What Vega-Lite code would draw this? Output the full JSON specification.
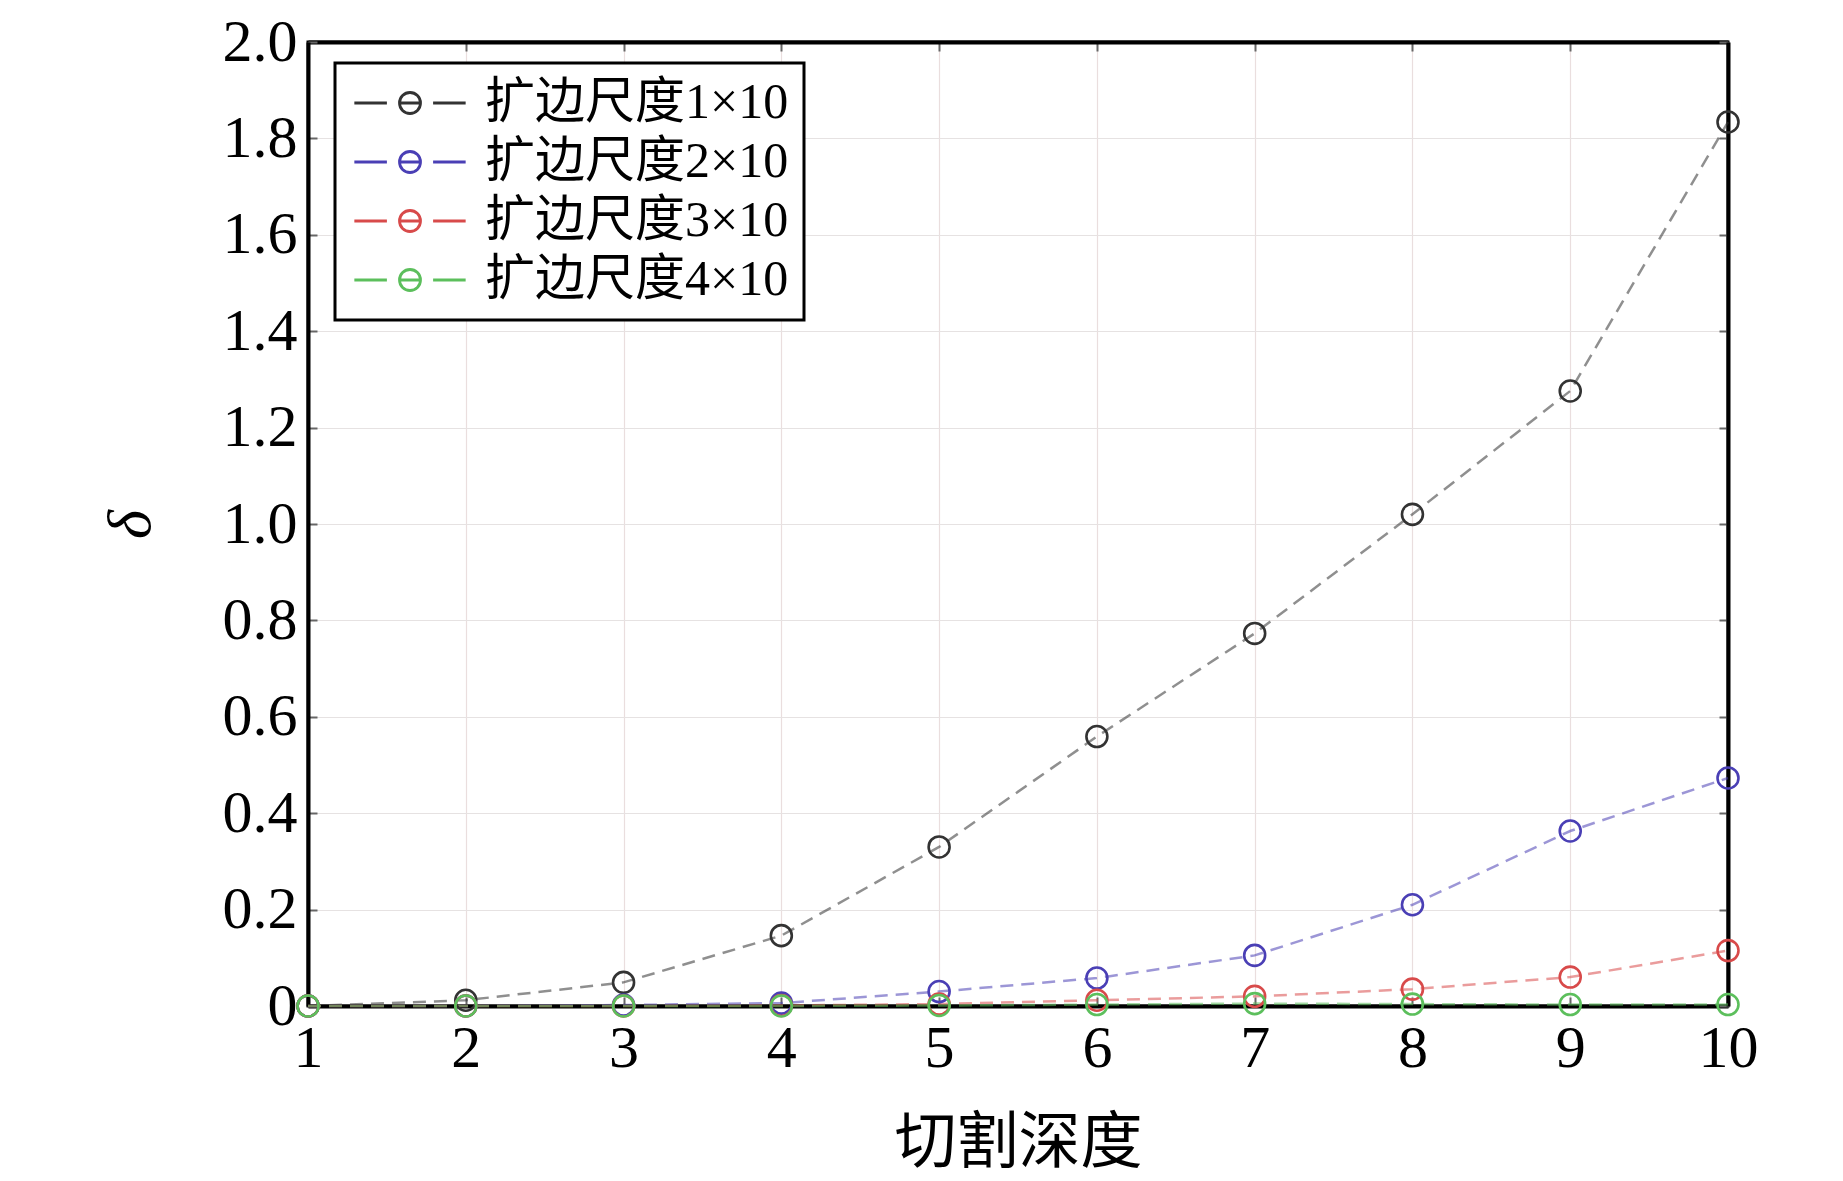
{
  "$schema": "https://vega.github.io/schema/vega-lite/v6.json",
  "autosize": "none",
  "width": 1420,
  "height": 964,
  "padding": {"left": 308, "top": 42, "right": 115, "bottom": 175},
  "background": "white",
  "config": {
    "view": {"stroke": "#000", "strokeWidth": 3},
    "font": "Liberation Serif, Noto Sans CJK SC"
  },
  "data": {
    "values": [
      {"x": 1, "y": 0.0, "s": "扩边尺度1×10"},
      {"x": 2, "y": 0.012, "s": "扩边尺度1×10"},
      {"x": 3, "y": 0.049, "s": "扩边尺度1×10"},
      {"x": 4, "y": 0.146, "s": "扩边尺度1×10"},
      {"x": 5, "y": 0.33, "s": "扩边尺度1×10"},
      {"x": 6, "y": 0.559, "s": "扩边尺度1×10"},
      {"x": 7, "y": 0.773, "s": "扩边尺度1×10"},
      {"x": 8, "y": 1.02, "s": "扩边尺度1×10"},
      {"x": 9, "y": 1.276, "s": "扩边尺度1×10"},
      {"x": 10, "y": 1.834, "s": "扩边尺度1×10"},
      {"x": 1, "y": 0.0, "s": "扩边尺度2×10"},
      {"x": 2, "y": 0.0, "s": "扩边尺度2×10"},
      {"x": 3, "y": 0.002, "s": "扩边尺度2×10"},
      {"x": 4, "y": 0.006, "s": "扩边尺度2×10"},
      {"x": 5, "y": 0.03, "s": "扩边尺度2×10"},
      {"x": 6, "y": 0.058, "s": "扩边尺度2×10"},
      {"x": 7, "y": 0.105, "s": "扩边尺度2×10"},
      {"x": 8, "y": 0.21, "s": "扩边尺度2×10"},
      {"x": 9, "y": 0.363, "s": "扩边尺度2×10"},
      {"x": 10, "y": 0.473, "s": "扩边尺度2×10"},
      {"x": 1, "y": 0.0, "s": "扩边尺度3×10"},
      {"x": 2, "y": 0.0, "s": "扩边尺度3×10"},
      {"x": 3, "y": 0.0, "s": "扩边尺度3×10"},
      {"x": 4, "y": 0.001, "s": "扩边尺度3×10"},
      {"x": 5, "y": 0.004, "s": "扩边尺度3×10"},
      {"x": 6, "y": 0.012, "s": "扩边尺度3×10"},
      {"x": 7, "y": 0.02, "s": "扩边尺度3×10"},
      {"x": 8, "y": 0.035, "s": "扩边尺度3×10"},
      {"x": 9, "y": 0.06, "s": "扩边尺度3×10"},
      {"x": 10, "y": 0.115, "s": "扩边尺度3×10"},
      {"x": 1, "y": 0.0, "s": "扩边尺度4×10"},
      {"x": 2, "y": 0.0, "s": "扩边尺度4×10"},
      {"x": 3, "y": 0.0, "s": "扩边尺度4×10"},
      {"x": 4, "y": 0.0, "s": "扩边尺度4×10"},
      {"x": 5, "y": 0.001, "s": "扩边尺度4×10"},
      {"x": 6, "y": 0.003, "s": "扩边尺度4×10"},
      {"x": 7, "y": 0.005, "s": "扩边尺度4×10"},
      {"x": 8, "y": 0.004, "s": "扩边尺度4×10"},
      {"x": 9, "y": 0.003, "s": "扩边尺度4×10"},
      {"x": 10, "y": 0.003, "s": "扩边尺度4×10"}
    ]
  },
  "layer": [
    {
      "mark": {"type": "line", "strokeDash": [13, 8], "strokeWidth": 2.5, "opacity": 0.55, "clip": false},
      "encoding": {
        "x": {
          "field": "x", "type": "quantitative",
          "scale": {"domain": [1, 10], "nice": false, "zero": false},
          "axis": {
            "title": "切割深度", "values": [1,2,3,4,5,6,7,8,9,10],
            "labelFontSize": 60, "labelColor": "#000", "labelFont": "Liberation Serif",
            "labelPadding": 22, "labelFlush": false, "labelOverlap": false,
            "titleFontSize": 62, "titleFontWeight": "normal", "titleColor": "#000",
            "titleFont": "Liberation Serif, Noto Sans CJK SC", "titlePadding": 35,
            "grid": true, "gridColor": "#eadede", "gridWidth": 1.2,
            "ticks": true, "tickSize": -9, "tickColor": "#666", "tickWidth": 2,
            "domain": true, "domainColor": "#000", "domainWidth": 4
          }
        },
        "y": {
          "field": "y", "type": "quantitative",
          "scale": {"domain": [0, 2], "nice": false},
          "axis": {
            "title": "δ", "values": [0,0.2,0.4,0.6,0.8,1.0,1.2,1.4,1.6,1.8,2.0],
            "labelExpr": "datum.value == 0 ? '0' : format(datum.value, '.1f')",
            "labelFontSize": 60, "labelColor": "#000", "labelFont": "Liberation Serif",
            "labelPadding": 20, "labelFlush": false, "labelOverlap": false,
            "titleFontSize": 62, "titleFontWeight": "normal", "titleFontStyle": "italic",
            "titleColor": "#000", "titleFont": "Liberation Serif", "titlePadding": 60,
            "grid": true, "gridColor": "#e6e2e2", "gridWidth": 1.2,
            "ticks": true, "tickSize": -9, "tickColor": "#666", "tickWidth": 2,
            "domain": true, "domainColor": "#000", "domainWidth": 4
          }
        },
        "color": {
          "field": "s", "type": "nominal",
          "scale": {"domain": ["扩边尺度1×10","扩边尺度2×10","扩边尺度3×10","扩边尺度4×10"],
                    "range": ["#333333", "#4a3fb5", "#d84a4a", "#5cbf5c"]},
          "legend": {
            "title": null, "orient": "none", "legendX": 27, "legendY": 21,
            "direction": "vertical",
            "strokeColor": "#000", "fillColor": "white",
            "padding": 15,
            "labelFontSize": 50, "labelColor": "#000", "labelLimit": 0,
            "labelFont": "Liberation Serif, Noto Sans CJK SC",
            "symbolType": "M -5.3 0 L -2.2 0 M 2.2 0 L 5.3 0 M -1 0 L 1 0 M -1 0 A 1 1 0 1 0 1 0 A 1 1 0 1 0 -1 0",
            "symbolSize": 441, "symbolStrokeWidth": 2.8, "symbolFillColor": "transparent",
            "symbolOpacity": 1,
            "symbolOffset": 35, "labelOffset": 50, "rowPadding": 9,
            "encode": {"legend": {"update": {"stroke": {"value": "#000"}, "strokeWidth": {"value": 3}}}}
          }
        }
      }
    },
    {
      "mark": {"type": "point", "shape": "circle", "filled": false, "size": 440, "strokeWidth": 2.6, "opacity": 1, "clip": false},
      "encoding": {
        "x": {"field": "x", "type": "quantitative", "scale": {"domain": [1, 10], "nice": false, "zero": false}, "axis": null},
        "y": {"field": "y", "type": "quantitative", "scale": {"domain": [0, 2], "nice": false}, "axis": null},
        "color": {"field": "s", "type": "nominal"}
      }
    },
    {
      "mark": {"type": "point", "opacity": 0},
      "encoding": {
        "x": {
          "field": "x", "type": "quantitative",
          "scale": {"domain": [1, 10], "nice": false, "zero": false},
          "axis": {"orient": "top", "title": null, "labels": false, "values": [1,2,3,4,5,6,7,8,9,10],
                   "grid": false, "domain": true, "domainColor": "#000", "domainWidth": 4,
                   "tickSize": -9, "tickColor": "#666", "tickWidth": 2}
        },
        "y": {
          "field": "y", "type": "quantitative",
          "scale": {"domain": [0, 2], "nice": false},
          "axis": {"orient": "right", "title": null, "labels": false, "values": [0,0.2,0.4,0.6,0.8,1.0,1.2,1.4,1.6,1.8,2.0],
                   "grid": false, "domain": true, "domainColor": "#000", "domainWidth": 4,
                   "tickSize": -9, "tickColor": "#666", "tickWidth": 2}
        }
      }
    }
  ],
  "resolve": {"axis": {"x": "independent", "y": "independent"}}
}
